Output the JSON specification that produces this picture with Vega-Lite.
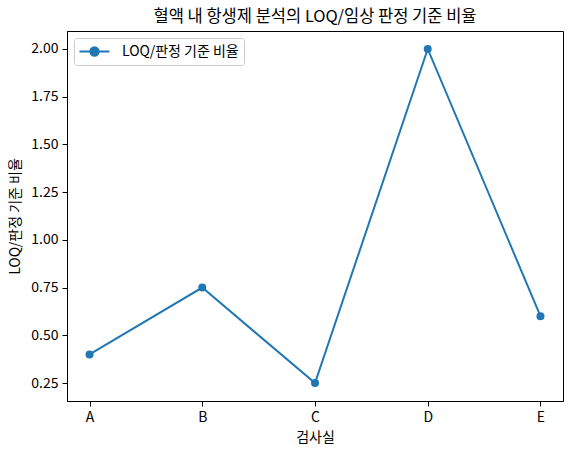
{
  "$schema": "https://vega.github.io/schema/vega-lite/v6.json",
  "autosize": "none",
  "width": 496,
  "height": 370,
  "padding": {"left": 67, "top": 31, "right": 10, "bottom": 53},
  "background": "white",
  "title": {"text": "혈액 내 항생제 분석의 LOQ/임상 판정 기준 비율", "fontSize": 16.5, "fontWeight": "normal", "font": "Noto Sans CJK KR", "color": "black", "offset": 6, "anchor": "middle"},
  "config": {
    "font": "Noto Sans CJK KR",
    "view": {"stroke": "black", "strokeWidth": 1},
    "axis": {"grid": false, "domainColor": "black", "tickColor": "black", "tickSize": 5, "labelFontSize": 14, "titleFontSize": 14, "labelColor": "black", "titleColor": "black", "titleFontWeight": "normal", "labelPadding": 4}
  },
  "data": {"values": [
    {"lab": "A", "ratio": 0.4, "series": "LOQ/판정 기준 비율"},
    {"lab": "B", "ratio": 0.75, "series": "LOQ/판정 기준 비율"},
    {"lab": "C", "ratio": 0.25, "series": "LOQ/판정 기준 비율"},
    {"lab": "D", "ratio": 2.0, "series": "LOQ/판정 기준 비율"},
    {"lab": "E", "ratio": 0.6, "series": "LOQ/판정 기준 비율"}
  ]},
  "encoding": {
    "x": {"field": "lab", "type": "ordinal", "scale": {"type": "point", "padding": 0.2}, "axis": {"title": "검사실", "labelAngle": 0, "titlePadding": 6}},
    "y": {"field": "ratio", "type": "quantitative", "scale": {"domain": [0.156, 2.094], "nice": false, "zero": false}, "axis": {"title": "LOQ/판정 기준 비율", "values": [0.25, 0.5, 0.75, 1.0, 1.25, 1.5, 1.75, 2.0], "format": ".2f", "titlePadding": 8}},
    "color": {"field": "series", "type": "nominal", "scale": {"range": ["#1f77b4"]}, "legend": {"title": null, "orient": "none", "legendX": 7, "legendY": 7, "symbolType": "M-2,0H2M-0.56,0A0.56,0.56 0 1,1 0.56,0A0.56,0.56 0 1,1 -0.56,0Z", "symbolSize": 225, "symbolStrokeWidth": 2, "symbolFillColor": "#1f77b4", "symbolStrokeColor": "#1f77b4", "symbolOffset": 7, "labelFontSize": 14, "labelColor": "black", "labelOffset": 19, "padding": 5, "strokeColor": "#cccccc", "fillColor": "white", "cornerRadius": 3}}
  },
  "layer": [
    {"mark": {"type": "line", "strokeWidth": 2}},
    {"mark": {"type": "point", "filled": true, "opacity": 1, "size": 64}}
  ]
}
